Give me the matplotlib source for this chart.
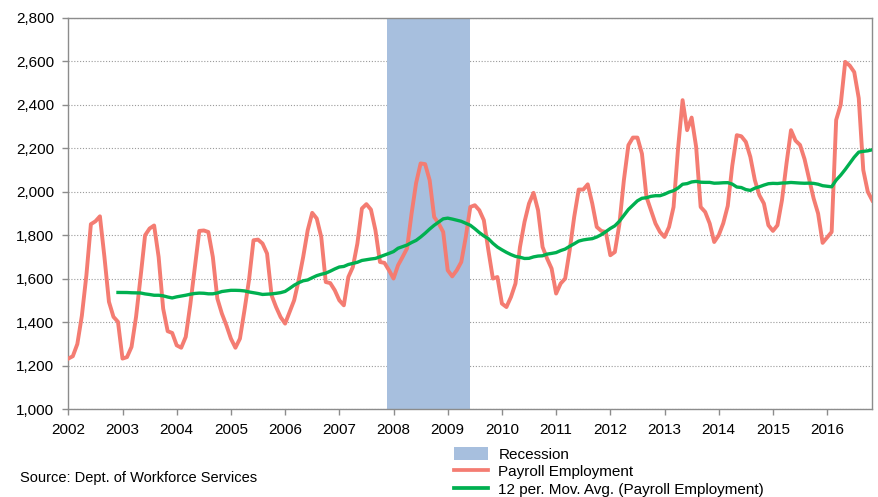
import matplotlib
matplotlib.use("Agg")
import matplotlib.pyplot as plt
import numpy as np
import pandas as pd
from matplotlib.patches import Patch
from matplotlib.lines import Line2D

plt.rcParams['font.family'] = ['Liberation Sans', 'DejaVu Sans']

years = list(range(2002, 2017))
y_ticks = list(range(1000, 2801, 200))

payroll_2002 = [1233, 1244, 1300, 1430, 1615, 1851, 1864, 1887, 1700, 1494, 1425, 1402]
payroll_2003 = [1233, 1240, 1287, 1425, 1608, 1800, 1831, 1845, 1700, 1463, 1359, 1351]
payroll_2004 = [1294, 1283, 1333, 1480, 1650, 1820, 1822, 1815, 1700, 1509, 1440, 1386]
payroll_2005 = [1325, 1283, 1325, 1455, 1593, 1777, 1780, 1762, 1716, 1524, 1470, 1424]
payroll_2006 = [1394, 1447, 1501, 1593, 1700, 1823, 1903, 1877, 1792, 1585, 1580, 1547]
payroll_2007 = [1501, 1478, 1608, 1654, 1762, 1923, 1943, 1918, 1823, 1677, 1673, 1639]
payroll_2008 = [1601, 1662, 1700, 1740, 1900, 2040, 2130, 2127, 2053, 1884, 1854, 1815]
payroll_2009 = [1639, 1611, 1639, 1677, 1792, 1930, 1938, 1915, 1869, 1731, 1601, 1608]
payroll_2010 = [1486, 1470, 1516, 1578, 1746, 1861, 1946, 1995, 1915, 1746, 1693, 1647]
payroll_2011 = [1532, 1578, 1601, 1731, 1884, 2010, 2010, 2034, 1946, 1838, 1820, 1815]
payroll_2012 = [1708, 1723, 1850, 2053, 2214, 2249, 2249, 2175, 1976, 1915, 1854, 1815]
payroll_2013 = [1792, 1838, 1930, 2200, 2421, 2283, 2341, 2206, 1930, 1907, 1854, 1769]
payroll_2014 = [1800, 1855, 1935, 2120, 2260, 2255, 2229, 2160, 2053, 1984, 1946, 1846]
payroll_2015 = [1820, 1846, 1961, 2129, 2283, 2235, 2215, 2150, 2060, 1970, 1900, 1765]
payroll_2016 = [1790, 1815, 2330, 2400, 2597, 2580, 2550, 2430, 2100, 2000, 1960]

payroll = (payroll_2002 + payroll_2003 + payroll_2004 + payroll_2005 + payroll_2006 +
           payroll_2007 + payroll_2008 + payroll_2009 + payroll_2010 + payroll_2011 +
           payroll_2012 + payroll_2013 + payroll_2014 + payroll_2015 + payroll_2016)

months = pd.period_range('2002-01', periods=len(payroll), freq='M')
recession_start = '2007-12'
recession_end = '2009-06'

moving_avg = pd.Series(payroll).rolling(12).mean()

RED = '#F47C72'
GREEN = '#00B050'
BLUE = '#A7BFDE'
GRAY = '#8C8C8C'

fig = plt.figure(figsize=(8.79, 4.97), dpi=100)
ax = fig.add_axes([68.3 / 879, 1 - 409.3 / 497, (872.3 - 68.3) / 879, (409.3 - 17.7) / 497])

x = np.arange(len(payroll))
rs = months.get_loc(pd.Period(recession_start, 'M'))
re_ = months.get_loc(pd.Period(recession_end, 'M'))
ax.axvspan(rs - 0.5, re_, color=BLUE, lw=0, zorder=1)
ax.plot(x, payroll, color=RED, lw=2.8, zorder=3, solid_joinstyle='round')
ax.plot(x, moving_avg, color=GREEN, lw=2.4, zorder=4, solid_joinstyle='round')

ax.set_xlim(0, len(payroll) - 1)
ax.set_ylim(y_ticks[0], y_ticks[-1])
ax.set_yticks(y_ticks)
ax.set_yticklabels([f'{v:,}' for v in y_ticks])
ax.set_xticks(np.arange(0, len(payroll), 12))
ax.set_xticklabels([str(y) for y in years])

ax.yaxis.grid(True, linestyle=(0, (1, 1.6)), color='#9A9A9A', lw=0.8, zorder=0)
ax.set_axisbelow(True)
for s in ax.spines.values():
    s.set_color(GRAY)
    s.set_linewidth(1.0)
ax.tick_params(axis='both', colors=GRAY, labelcolor='black', labelsize=11,
               length=4, width=1, direction='out')
ax.tick_params(axis='y', pad=6)
ax.tick_params(axis='x', pad=6)

handles = [Patch(facecolor=BLUE, edgecolor='none'),
           Line2D([], [], color=RED, lw=2.7),
           Line2D([], [], color=GREEN, lw=2.7)]
labels = ['Recession', 'Payroll Employment', '12 per. Mov. Avg. (Payroll Employment)']
fig.legend(handles, labels, loc='upper left', bbox_to_anchor=(454 / 879, 1 - 447 / 497),
           frameon=False, fontsize=11, handlelength=2.2, handleheight=0.9,
           handletextpad=0.7, labelspacing=0.2, borderpad=0, borderaxespad=0)

fig.text(20 / 879, 1 - 478 / 497, 'Source: Dept. of Workforce Services', fontsize=10.5,
         va='center', ha='left')

fig.savefig('out.png', dpi=100)
